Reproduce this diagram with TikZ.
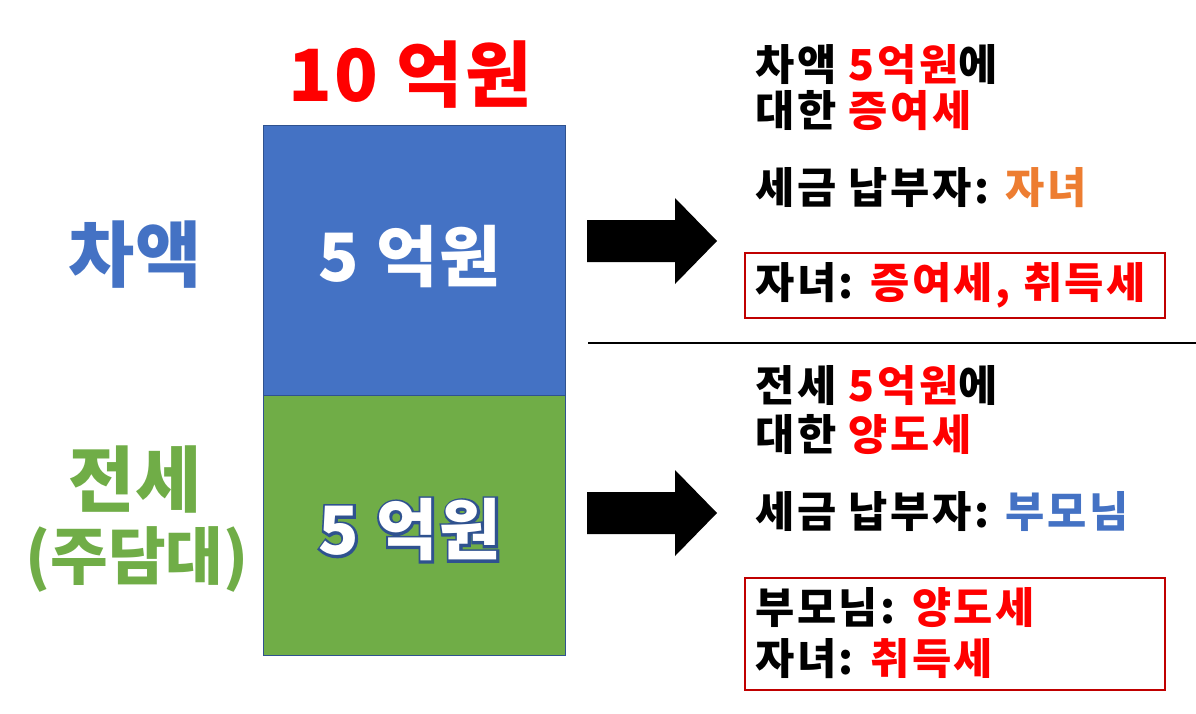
\documentclass[tikz,border=0pt]{standalone}
\usepackage{fontspec}
\setmainfont{Noto Sans CJK KR}
\definecolor{kred}{HTML}{FF0000}
\definecolor{kblue}{HTML}{4472C4}
\definecolor{kgreen}{HTML}{70AD47}
\definecolor{korange}{HTML}{ED7D31}
\definecolor{kbox}{HTML}{C00000}
\definecolor{kedge}{HTML}{2F528F}
\newcommand\outlinedtext[1]{\rlap{\special{pdf:literal direct 1 Tr 3.6 w 0.184 0.322 0.561 RG}#1\special{pdf:literal direct 0 Tr 0 G}}#1}
\begin{document}
\begin{tikzpicture}[x=0.75pt,y=-0.75pt,
  block/.style={draw=kedge,line width=0.8pt,minimum width=302*0.75pt,inner sep=0pt},
  big/.style={font=\fontsize{50}{54}\selectfont\bfseries\addfontfeatures{LetterSpace=3}},
  side/.style={font=\fontsize{54}{60}\selectfont\bfseries},
  rtext/.style={anchor=west,align=left,inner sep=0pt,font=\fontsize{32}{48}\selectfont\bfseries\addfontfeatures{LetterSpace=6}},
  redbox/.style={draw=kbox,line width=0.8pt,inner sep=0pt},
  bigarrow/.style={fill=black}]
\useasboundingbox (0,0) rectangle (1196,714);
\fill[white] (0,0) rectangle (1196,714);
% blocks
\node[block,fill=kblue,minimum height=270*0.75pt,anchor=north west] (top) at (263,125) {};
\node[block,fill=kgreen,minimum height=260*0.75pt,anchor=north west] (bot) at (263,395) {};
\node[big,text=white] (topval) at (410,257) {5 억원};
\node[big,text=kred] (total) at (410,75) {\fontsize{54}{58}\selectfont 10 억원};
% side labels
\node[side,text=kblue] (cha) at (135,255) {차액};
\node[side,text=kgreen] (jeon) at (135,479) {전세};
\node[side,text=kgreen] (judam) at (137,559) {\fontsize{47}{52}\selectfont(주담대)};
% arrows
\fill[bigarrow] (587,220) -- (675,220) -- (675,198) -- (717,241) -- (675,284) -- (675,262) -- (587,262) -- cycle;
\fill[bigarrow] (587,492) -- (675,492) -- (675,470) -- (717,513) -- (675,556) -- (675,534) -- (587,534) -- cycle;
% separator
\draw[line width=1pt] (588,343) -- (1196,343);
% right texts top
\node[rtext] (t1) at (755,65) {차액 \textcolor{kred}{5억원}에};
\node[rtext] (t2) at (755,111) {대한 \textcolor{kred}{증여세}};
\node[rtext] (t3) at (755,188) {세금 납부자: \textcolor{korange}{자녀}};
\draw[redbox] (745,253) rectangle (1165,318);
\node[rtext] (t4) at (755,285) {자녀: \textcolor{kred}{증여세, 취득세}};
% right texts bottom
\node[rtext] (b1) at (755,386) {전세 \textcolor{kred}{5억원}에};
\node[rtext] (b2) at (755,435) {대한 \textcolor{kred}{양도세}};
\node[rtext] (b3) at (755,512) {세금 납부자: \textcolor{kblue}{부모님}};
\draw[redbox] (745,578) rectangle (1165,690);
\node[rtext] (b4) at (755,608) {부모님: \textcolor{kred}{양도세}};
\node[rtext] (b5) at (755,659) {자녀: \textcolor{kred}{취득세}};
% outlined text on green block (drawn last)
\node[big,text=white] (botval) at (410,530) {\outlinedtext{5 억원}};
\end{tikzpicture}
\end{document}
